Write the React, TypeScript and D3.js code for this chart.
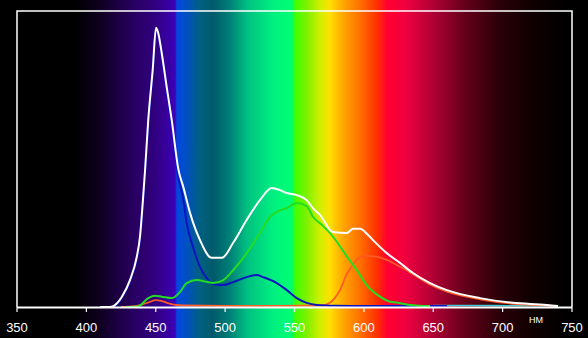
import React from 'react';
import * as d3 from 'd3';

// ---- data (wavelength nm, relative intensity 0..100) ----
const xTicks = [350, 400, 450, 500, 550, 600, 650, 700, 750];
const unitLabel = 'HM';

const whiteSeries: [number, number][] = [
  [410, 0], [417, 0], [419.4, 0.3], [425.5, 3.4], [431.4, 9.1], [436.3, 16.9], [438.6, 23.6],
  [440.6, 35.1], [442.3, 46.3], [444.6, 63.2], [447.8, 80.1], [450.2, 94.3], [451.6, 92.9],
  [454.3, 85.8], [457.9, 74.3], [461.5, 63.2], [466.3, 46.5], [469.9, 40.5], [474.7, 31.8],
  [481.9, 22.6], [490.3, 16.6], [497.7, 16.6], [505.7, 21.6], [515.5, 29.4], [525.1, 36.1],
  [533.6, 40.2], [539.5, 39.5], [544.4, 38.5], [551.6, 37.8], [558.8, 36.1], [563.3, 33.4],
  [568.4, 31.1], [577.7, 25.3], [587.6, 25.0], [592.2, 26.4], [597.2, 26.4], [602.3, 24.7],
  [606.6, 22.6], [616.5, 18.2], [626.0, 14.9], [635.4, 11.5], [647.7, 8.1], [659.9, 5.7],
  [683.7, 3.0], [707.5, 1.4], [732.0, 0.7], [739.9, 0.3],
];

const blueSeries: [number, number][] = [
  [418, 0], [422, 0.8], [425.5, 3], [431.4, 8.5], [436.3, 16], [438.6, 22.5], [440.6, 34],
  [442.3, 45], [444.6, 62], [447.8, 79], [450.2, 93.5], [451.6, 92], [454.3, 85], [457.9, 73],
  [461.5, 61], [466.3, 44], [469.9, 36], [472.3, 28.4], [476.8, 20.3], [481.9, 13.5],
  [486.7, 9.8], [491.3, 7.8], [498.5, 7.4], [505.7, 8.4], [515.5, 10.1], [522.8, 10.8],
  [527.3, 10.1], [537.2, 8.1], [544.4, 5.7], [551.6, 3.0], [558.8, 1.4], [566, 0.7],
  [580, 0.4], [600, 0.3], [630, 0.3], [660, 0.3],
];

const greenSeries: [number, number][] = [
  [427.8, 0], [437.2, 0.2], [444.6, 3.0], [449.5, 3.8], [454.3, 3.5], [461.5, 3.0],
  [467.5, 5.1], [472.3, 8.1], [479.5, 9.1], [486.7, 8.5], [491.5, 8.1], [498.7, 9.1],
  [505.9, 12.5], [515.5, 18.2], [525.1, 25.0], [532.3, 30.4], [537.2, 32.2], [544.4, 33.4],
  [551.6, 35.1], [558.8, 34.1], [563.3, 30.5], [569.8, 27.7], [577.7, 23.8], [587.6, 17.2],
  [594.8, 12.5], [602.0, 7.4], [606.6, 5.2], [611.6, 3.5], [618.8, 1.8], [623.7, 1.5],
  [633.2, 0.7], [647.7, 0.3],
];

const redSeries: [number, number][] = [
  [425, 0], [435, 0.3], [440, 0.8], [445, 1.6], [450, 2.3], [454, 2.1], [458, 1.4],
  [463, 0.8], [470, 0.5], [500, 0.4], [540, 0.4], [570, 0.5], [575.6, 1.4], [579, 3],
  [582.8, 5.7], [587.6, 11], [590, 12.8], [594.8, 15.9], [598, 16.9], [602, 17.3],
  [606, 17.2], [609.2, 17.0], [616.5, 15.9], [626, 13.6], [634, 11.5], [640.4, 9.6],
  [647.7, 7.6], [660, 5.2], [683.7, 2.6], [707.5, 1.1], [732, 0.5], [738, 0.3],
];

const cyanSeries: [number, number][] = [
  [650, 0.5], [680, 0.5], [710, 0.4], [740, 0.4],
];

// background spectrum colour stops: [wavelength nm, colour]
const spectrumStops: [number, string][] = [
  [391.8, '#000000'], [409.8, '#0e0020'], [433.6, '#280060'], [449.5, '#30007f'],
  [458.1, '#3800a0'], [463.9, '#3c00b8'], [465.3, '#0048e0'], [472.5, '#0050c0'],
  [481.9, '#006080'], [491.3, '#005a6a'], [503.5, '#008078'], [515.8, '#00c080'],
  [534.5, '#00f080'], [548.2, '#00ff70'], [550.4, '#40ff00'], [559.0, '#80f000'],
  [568.4, '#d0f000'], [575.6, '#ffe000'], [580.6, '#ffc000'], [586.4, '#ffa000'],
  [597.2, '#ff7000'], [609.5, '#ff3000'], [616.7, '#ff0030'], [629.6, '#f00040'],
  [649.8, '#b00035'], [674.3, '#600018'], [698.1, '#2a0008'], [721.9, '#0e0000'],
  [748.6, '#000000'],
];

const W = 588;
const H = 338;
const plot = { left: 17, right: 572, top: 11, bottom: 307 };

export default function App() {
  const x = d3.scaleLinear().domain([350, 750]).range([plot.left, plot.right]);
  const y = d3.scaleLinear().domain([0, 100]).range([plot.bottom, plot.top]);
  const line = d3
    .line<[number, number]>()
    .x((d) => x(d[0]))
    .y((d) => y(d[1]))
    .curve(d3.curveMonotoneX);

  const series: { data: [number, number][]; color: string; w: number }[] = [
    { data: cyanSeries, color: '#40c8d0', w: 1.6 },
    { data: redSeries, color: '#ff5a28', w: 1.8 },
    { data: blueSeries, color: '#0a14c0', w: 2 },
    { data: greenSeries, color: '#22dd22', w: 2 },
    { data: whiteSeries, color: '#ffffff', w: 2 },
  ];

  const font = '"Liberation Sans", Arial, sans-serif';

  return (
    <svg
      width={W}
      height={H}
      style={{ position: 'absolute', left: 0, top: 0, display: 'block' }}
    >
      <defs>
        <linearGradient id="spec" gradientUnits="userSpaceOnUse" x1={0} y1={0} x2={W} y2={0}>
          {spectrumStops.map(([nm, c], i) => (
            <stop key={i} offset={x(nm) / W} stopColor={c} />
          ))}
        </linearGradient>
      </defs>
      <rect x={0} y={0} width={W} height={H} fill="url(#spec)" />

      {series.map((s, i) => (
        <path
          key={i}
          d={line(s.data) || ''}
          fill="none"
          stroke={s.color}
          strokeWidth={s.w}
          strokeLinejoin="round"
        />
      ))}

      {/* frame */}
      <path
        d={`M${plot.left},${plot.bottom}V${plot.top}H${plot.right}V${plot.bottom}`}
        fill="none"
        stroke="#ffffff"
        strokeWidth={1.5}
      />
      <line
        x1={plot.left}
        x2={plot.right}
        y1={plot.bottom + 0.5}
        y2={plot.bottom + 0.5}
        stroke="#ffffff"
        strokeWidth={2}
      />
      {xTicks.map((t) => (
        <g key={t}>
          <line
            x1={x(t)}
            x2={x(t)}
            y1={plot.bottom}
            y2={plot.bottom + 5}
            stroke="#ffffff"
            strokeWidth={1.2}
          />
          <text
            x={x(t)}
            y={332}
            fill="#ffffff"
            fontSize={13}
            fontFamily={font}
            textAnchor="middle"
          >
            {t}
          </text>
        </g>
      ))}
      <text x={536} y={323} fill="#ffffff" fontSize={9} fontFamily={font} textAnchor="middle">
        {unitLabel}
      </text>
    </svg>
  );
}
